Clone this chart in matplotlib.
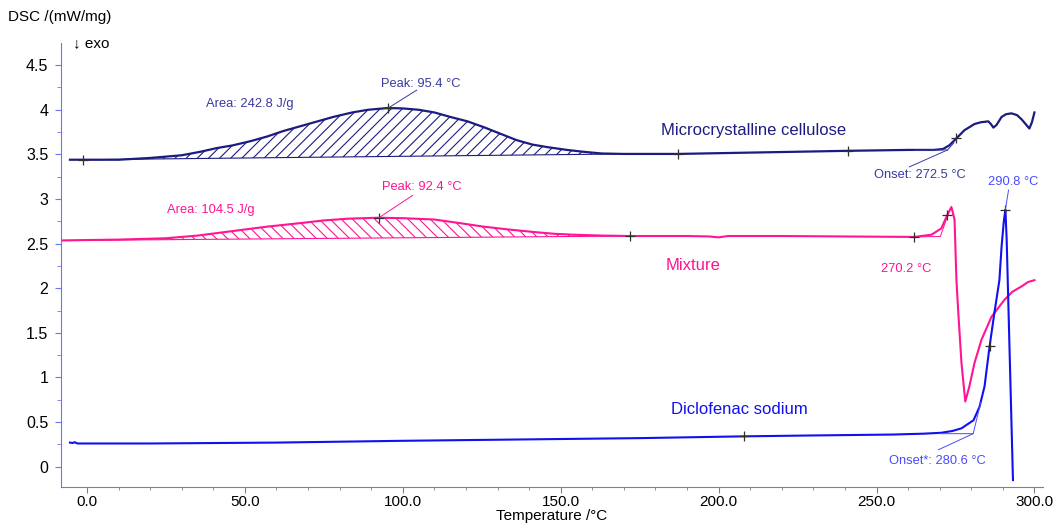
import numpy as np
import matplotlib
matplotlib.use("Agg")
from matplotlib import pyplot as plt
from matplotlib.ticker import MultipleLocator, FormatStrFormatter, FuncFormatter

plt.rcParams['font.family'] = ['Liberation Sans', 'DejaVu Sans']
plt.rcParams['hatch.linewidth'] = 0.8

# Microcrystalline cellulose
mcc_t = [-5.4, 0, 10, 20, 30, 36, 41, 46, 52, 57, 62, 68, 73, 78, 84, 89, 95.4,
         100, 105, 110, 115, 120.5, 126, 131, 136, 141, 146, 152, 157, 163, 170,
         187, 210, 241, 260, 268, 271, 273, 275.3, 277.8, 281, 283, 285.4, 286.2,
         287, 288, 289.6, 291, 292.7, 294.5, 296, 298.4, 299.2, 300]
mcc_v = [3.44, 3.44, 3.44, 3.46, 3.49, 3.53, 3.57, 3.60, 3.65, 3.70, 3.76, 3.82,
         3.87, 3.92, 3.97, 4.00, 4.02, 4.015, 4.00, 3.97, 3.92, 3.87, 3.80, 3.73,
         3.66, 3.61, 3.58, 3.55, 3.53, 3.51, 3.505, 3.505, 3.52, 3.54, 3.55, 3.55,
         3.56, 3.60, 3.68, 3.77, 3.84, 3.86, 3.87, 3.84, 3.80, 3.83, 3.92, 3.95,
         3.96, 3.94, 3.89, 3.79, 3.86, 3.97]

# Mixture
mix_t = [-8.2, 0, 10, 25, 35, 46, 57, 67.6, 75, 83, 92.4, 100, 110, 118, 125.6,
         133, 141.5, 148, 154, 163, 172, 190, 197, 200, 203, 220, 240, 262, 267.4,
         270.5, 272.4, 273.7, 274.7, 275.3, 275.9, 276.9, 278.1, 279.4, 281.0,
         283.2, 286.4, 290.5, 293, 295.9, 298, 300]
mix_v = [2.535, 2.54, 2.545, 2.56, 2.59, 2.64, 2.69, 2.73, 2.76, 2.78, 2.79, 2.785,
         2.77, 2.73, 2.69, 2.66, 2.63, 2.61, 2.60, 2.59, 2.585, 2.585, 2.58, 2.57,
         2.585, 2.585, 2.58, 2.575, 2.60, 2.67, 2.82, 2.91, 2.77, 2.09, 1.72, 1.16,
         0.73, 0.90, 1.16, 1.42, 1.68, 1.87, 1.96, 2.02, 2.07, 2.09]

# Diclofenac sodium
dic_t = [-5.4, -4.5, -4, -3, 0, 20, 40, 60, 80, 100, 125, 150, 175, 208, 230, 255,
         265, 270.5, 274, 276.9, 279, 280.7, 282.6, 284.2, 285.8, 287.3, 288.9,
         289.6, 290.3, 290.8, 291.2, 293.2]
dic_v = [0.27, 0.265, 0.275, 0.26, 0.26, 0.26, 0.265, 0.27, 0.28, 0.29, 0.30, 0.31,
         0.32, 0.34, 0.35, 0.36, 0.37, 0.38, 0.40, 0.43, 0.48, 0.52, 0.67, 0.90,
         1.35, 1.72, 2.09, 2.47, 2.75, 2.88, 2.55, -0.15]

# peak integration limits and baselines
mcc_area = (-1.3, 170, 3.44, 3.505)
mix_area = (-8.2, 172, 2.535, 2.585)

y_ticks = [0, 0.5, 1, 1.5, 2, 2.5, 3, 3.5, 4, 4.5]

navy = '#1c1c80'
navy_txt = '#3a3aa0'
pink = '#ff1493'
blue = '#1010f0'
blue_txt = '#4a4aff'

fig = plt.figure(figsize=(10.55, 5.26), dpi=100)
ax = fig.add_axes([0.0578, 0.0741, 0.9308, 0.8441])


def hatch_peak(t, v, lims, color, hatch):
    t = np.asarray(t)
    v = np.asarray(v)
    t0, t1, b0, b1 = lims
    m = (t >= t0) & (t <= t1)
    tt = np.concatenate([[t0], t[m], [t1]])
    vv = np.concatenate([[np.interp(t0, t, v)], v[m], [np.interp(t1, t, v)]])
    base = b0 + (b1 - b0) * (tt - t0) / (t1 - t0)
    ax.fill_between(tt, base, vv, facecolor='none', edgecolor=color,
                    hatch=hatch, linewidth=0)
    ax.plot([t0, t1], [b0, b1], color=color, lw=0.8)


hatch_peak(mcc_t, mcc_v, mcc_area, navy, '///')
hatch_peak(mix_t, mix_v, mix_area, pink, '\\\\\\')

ax.plot(mcc_t, mcc_v, color=navy, lw=1.6)
ax.plot(mix_t, mix_v, color=pink, lw=1.5)
ax.plot(dic_t, dic_v, color=blue, lw=1.5)

# tangent construction lines
ax.plot([262, 272.5, 274.5], [3.545, 3.55, 3.63], color=navy_txt, lw=0.7)
ax.plot([262, 270.2, 272.4], [2.575, 2.58, 2.80], color=pink, lw=0.7)
ax.plot([270, 280.6, 283.0], [0.37, 0.37, 0.72], color=blue_txt, lw=0.7)

# evaluation markers
mk = dict(marker='+', color='#303030', ms=7, mew=0.9, ls='none')
ax.plot([-1.3, 95.4, 187, 241, 275.3], [3.44, 4.02, 3.505, 3.54, 3.68], **mk)
ax.plot([172, 92.4, 262, 272.4], [2.585, 2.79, 2.575, 2.82], **mk)
ax.plot([208, 285.8, 290.8], [0.34, 1.35, 2.88], **mk)

# annotations
fs = 9.3
ax.text(105.6, 4.29, 'Peak: 95.4 °C', color=navy_txt, fontsize=fs, ha='center', va='center')
ax.plot([104.4, 95.4], [4.22, 4.02], color=navy_txt, lw=0.7)
ax.text(51.4, 4.06, 'Area: 242.8 J/g', color=navy_txt, fontsize=fs, ha='center', va='center')
ax.text(263.6, 3.27, 'Onset: 272.5 °C', color=navy_txt, fontsize=fs, ha='center', va='center')
ax.plot([260.4, 272.5], [3.36, 3.55], color=navy_txt, lw=0.7)

ax.text(106, 3.14, 'Peak: 92.4 °C', color=pink, fontsize=fs, ha='center', va='center')
ax.plot([103.1, 92.4], [3.04, 2.79], color=pink, lw=0.7)
ax.text(39.3, 2.88, 'Area: 104.5 J/g', color=pink, fontsize=fs, ha='center', va='center')
ax.text(259.5, 2.21, '270.2 °C', color=pink, fontsize=fs, ha='center', va='center')

ax.text(293.4, 3.19, '290.8 °C', color=blue_txt, fontsize=fs, ha='center', va='center')
ax.plot([291.8, 290.8], [3.10, 2.88], color=blue_txt, lw=0.7)
ax.text(269.3, 0.06, 'Onset*: 280.6 °C', color=blue_txt, fontsize=fs, ha='center', va='center')
ax.plot([269.6, 280.6], [0.19, 0.37], color=blue_txt, lw=0.7)

ax.text(211.2, 3.765, 'Microcrystalline cellulose', color=navy, fontsize=12, ha='center', va='center')
ax.text(192, 2.26, 'Mixture', color=pink, fontsize=12, ha='center', va='center')
ax.text(206.5, 0.645, 'Diclofenac sodium', color=blue, fontsize=12, ha='center', va='center')

# axes styling
ax.set_xlim(-8.24, 302.7)
ax.set_ylim(-0.228, 4.748)
ax.spines['top'].set_visible(False)
ax.spines['right'].set_visible(False)
ax.spines['left'].set_color('#7070ff')
ax.spines['bottom'].set_color('#808080')
ax.xaxis.set_major_locator(MultipleLocator(50))
ax.xaxis.set_minor_locator(MultipleLocator(10))
ax.xaxis.set_major_formatter(FormatStrFormatter('%.1f'))
ax.set_yticks(y_ticks)
ax.yaxis.set_minor_locator(MultipleLocator(0.25))
ax.yaxis.set_major_formatter(FuncFormatter(lambda v, p: f'{v:g}'))
ax.tick_params(axis='x', which='both', colors='#808080', labelcolor='black', labelsize=11)
ax.tick_params(axis='y', which='both', colors='#7070ff', labelcolor='black', labelsize=11.5)
ax.tick_params(axis='x', which='major', length=4, pad=2)
ax.tick_params(axis='x', which='minor', length=2.5)
ax.tick_params(axis='y', which='major', length=4, pad=5)
ax.tick_params(axis='y', which='minor', length=3)

fig.text(8 / 1055, 1 - 17 / 526, 'DSC /(mW/mg)', fontsize=11, ha='left', va='center')
ax.text(0.012, 1.0, '↓ exo', transform=ax.transAxes, fontsize=11, ha='left', va='center')
fig.text(552 / 1055, 1 - 516 / 526, 'Temperature /°C', fontsize=11, ha='center', va='center')

fig.savefig('out.png', dpi=100)
